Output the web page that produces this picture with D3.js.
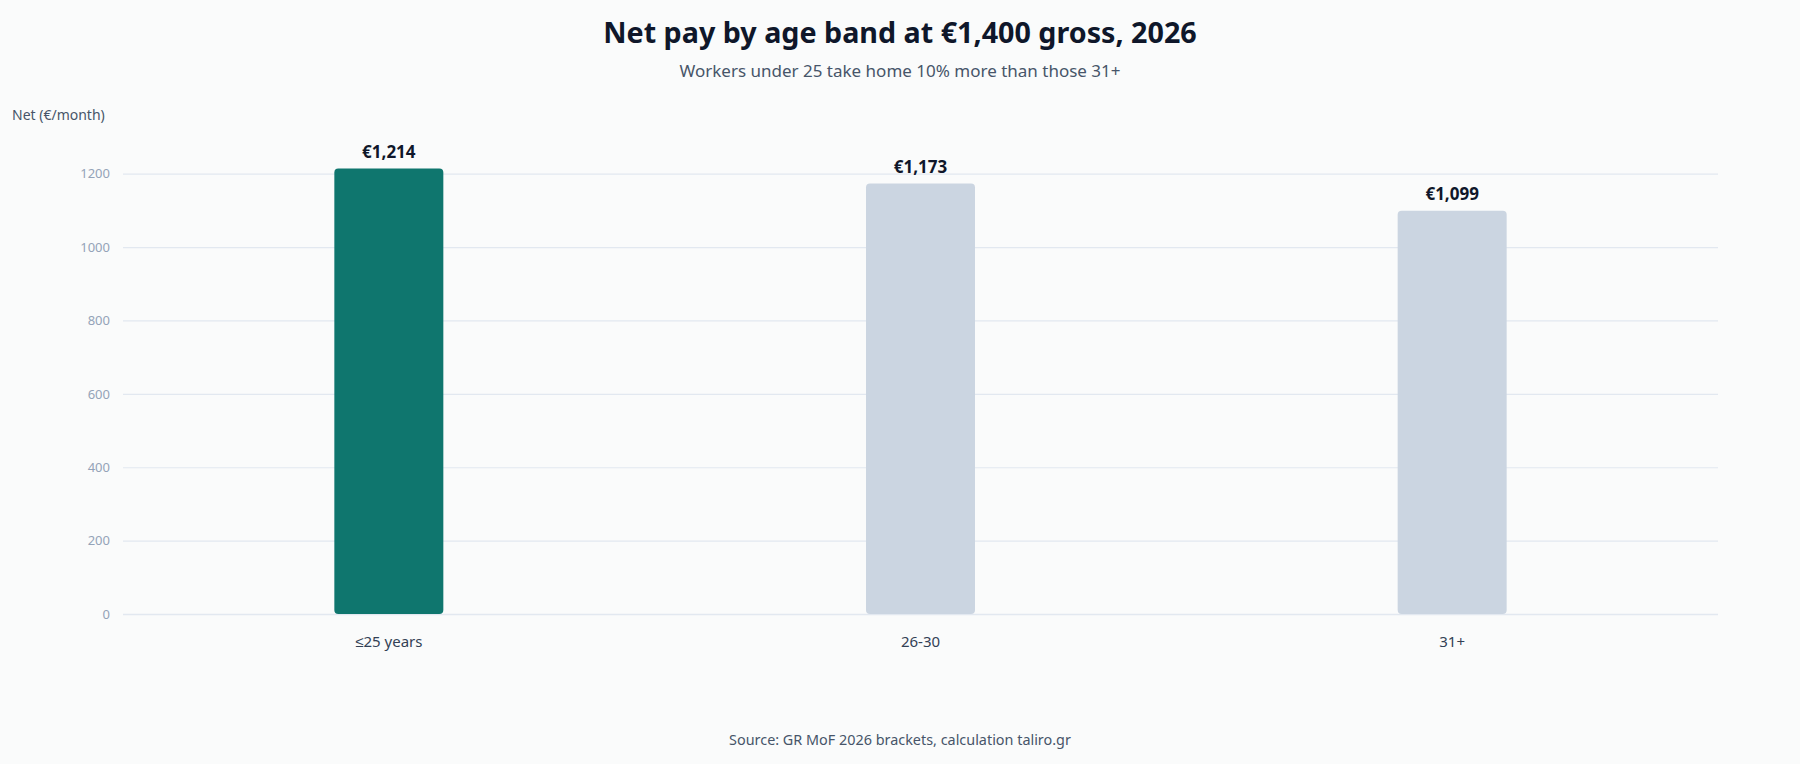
<!DOCTYPE html>
<html>
<head>
<meta charset="utf-8">
<script src="https://cdn.jsdelivr.net/npm/d3@7"></script>
<style>
  html, body { margin: 0; padding: 0; background: #fafbfb; }
  svg { display: block; font-family: "Noto Sans", "Open Sans", sans-serif; }
</style>
</head>
<body>
<script>
// chart data
const bands = ["≤25 years", "26-30", "31+"];
const netPay = [1214, 1173, 1099];
const yTicks = [0, 200, 400, 600, 800, 1000, 1200];
const highlight = "≤25 years";

const width = 1800;
const height = 764;
const margin = { top: 137, right: 82, bottom: 150, left: 123 };

const svg = d3.select("body").append("svg")
    .attr("width", width)
    .attr("height", height);

svg.append("rect")
    .attr("width", width)
    .attr("height", height)
    .attr("fill", "#fafbfb");

// title block
svg.append("text")
    .attr("x", width / 2)
    .attr("y", 43)
    .attr("text-anchor", "middle")
    .attr("font-size", 28.7)
    .attr("font-weight", 700)
    .attr("fill", "#0f172a")
    .text("Net pay by age band at €1,400 gross, 2026");

svg.append("text")
    .attr("x", width / 2)
    .attr("y", 77)
    .attr("text-anchor", "middle")
    .attr("font-size", 17)
    .attr("fill", "#475569")
    .text("Workers under 25 take home 10% more than those 31+");

svg.append("text")
    .attr("x", 12)
    .attr("y", 120)
    .attr("font-size", 14)
    .attr("fill", "#475569")
    .text("Net (€/month)");

const g = svg.append("g");

// scales
const x = d3.scaleBand()
    .domain(bands)
    .range([margin.left, width - margin.right])
    .paddingInner(0.795)
    .paddingOuter(0.3975);

const y = d3.scaleLinear()
    .domain([0, 1300])
    .range([height - margin.bottom, margin.top]);

// gridlines + y labels
const yAxis = g.append("g")
    .attr("transform", `translate(${margin.left},0)`)
    .call(d3.axisLeft(y)
        .tickValues(yTicks)
        .tickSize(-(width - margin.left - margin.right))
        .tickPadding(13)
        .tickFormat(d3.format("d")));

yAxis.select(".domain").remove();
yAxis.selectAll(".tick line")
    .attr("stroke", "#e2e8f0")
    .attr("stroke-width", d => d === 0 ? 1.6 : 1.2);
yAxis.selectAll(".tick text")
    .attr("fill", "#94a3b8")
    .attr("font-size", 13)
    .attr("font-family", "Noto Sans, sans-serif");

// bars
g.selectAll(".bar")
    .data(bands)
    .enter().append("rect")
    .attr("class", "bar")
    .attr("x", d => x(d))
    .attr("y", (d, i) => y(netPay[i]))
    .attr("width", x.bandwidth())
    .attr("height", (d, i) => y(0) - y(netPay[i]))
    .attr("rx", 4)
    .attr("fill", d => d === highlight ? "#0f766e" : "#cbd5e1");

// value labels
g.selectAll(".val")
    .data(bands)
    .enter().append("text")
    .attr("class", "val")
    .attr("x", d => x(d) + x.bandwidth() / 2)
    .attr("y", (d, i) => y(netPay[i]) - 11)
    .attr("text-anchor", "middle")
    .attr("font-size", 17)
    .attr("font-weight", 700)
    .attr("fill", "#0f172a")
    .text((d, i) => "€" + d3.format(",")(netPay[i]));

// x axis labels
const xAxis = g.append("g")
    .attr("transform", `translate(0,${y(0)})`)
    .call(d3.axisBottom(x).tickSize(0).tickPadding(22));

xAxis.select(".domain").remove();
xAxis.selectAll(".tick text")
    .attr("fill", "#334155")
    .attr("font-size", 15)
    .attr("font-family", "Noto Sans, sans-serif");

// source
svg.append("text")
    .attr("x", width / 2)
    .attr("y", 745)
    .attr("text-anchor", "middle")
    .attr("font-size", 14.4)
    .attr("fill", "#475569")
    .text("Source: GR MoF 2026 brackets, calculation taliro.gr");
</script>
</body>
</html>
